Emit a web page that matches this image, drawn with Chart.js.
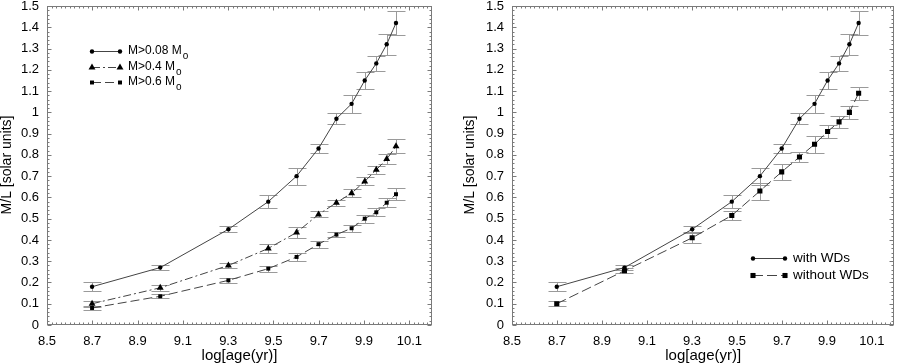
<!DOCTYPE html>
<html><head><meta charset="utf-8">
<script src="https://cdn.jsdelivr.net/npm/chart.js@4/dist/chart.umd.min.js"></script>
<style>
html,body{margin:0;padding:0;background:#fff;}
#wrap{position:relative;width:898px;height:364px;overflow:hidden;background:#fff;}
#c1{position:absolute;left:0;top:0;width:450px;height:364px;}
#c2{position:absolute;left:450px;top:0;width:448px;height:364px;}
</style></head><body>
<div id="wrap"><canvas id="c1" width="450" height="364"></canvas><canvas id="c2" width="448" height="364"></canvas></div>
<script>
// ---- data ----
const ages = [8.699, 9.0, 9.301, 9.477, 9.602, 9.699, 9.778, 9.845, 9.903, 9.954, 10.0, 10.041];
const mlAll = [0.18, 0.27, 0.45, 0.58, 0.70, 0.83, 0.97, 1.04, 1.15, 1.23, 1.32, 1.42];
const errAll = [0.022, 0.012, 0.014, 0.03, 0.04, 0.021, 0.026, 0.042, 0.041, 0.035, 0.05, 0.055];
const ml04 = [0.10, 0.175, 0.28, 0.36, 0.435, 0.52, 0.575, 0.62, 0.675, 0.73, 0.78, 0.84];
const err04 = [0.015, 0.013, 0.013, 0.023, 0.028, 0.014, 0.014, 0.02, 0.019, 0.02, 0.025, 0.033];
const ml06 = [0.08, 0.135, 0.21, 0.265, 0.32, 0.38, 0.425, 0.455, 0.50, 0.53, 0.575, 0.615];
const err06 = [0.01, 0.01, 0.012, 0.014, 0.02, 0.017, 0.013, 0.016, 0.019, 0.019, 0.02, 0.027];
const mlNoWD = [0.10, 0.255, 0.41, 0.515, 0.63, 0.72, 0.79, 0.85, 0.91, 0.955, 1.0, 1.09];
const errNoWD = [0.011, 0.011, 0.023, 0.023, 0.04, 0.037, 0.024, 0.039, 0.031, 0.027, 0.031, 0.03];
const xTicks = [8.5, 8.7, 8.9, 9.1, 9.3, 9.5, 9.7, 9.9, 10.1];
const xTickLabels = ['8.5','8.7','8.9','9.1','9.3','9.5','9.7','9.9','10.1'];
const yTicks = [0,0.1,0.2,0.3,0.4,0.5,0.6,0.7,0.8,0.9,1,1.1,1.2,1.3,1.4,1.5];
const yTickLabels = ['0','0.1','0.2','0.3','0.4','0.5','0.6','0.7','0.8','0.9','1','1.1','1.2','1.3','1.4','1.5'];
const leftLegend = ['M>0.08 M', 'M>0.4 M', 'M>0.6 M'];
const rightLegend = ['with WDs', 'without WDs'];
const xTitle = 'log[age(yr)]';
const yTitle = 'M/L [solar units]';

const FONT = '"Liberation Sans", Arial, Helvetica, sans-serif';

function ds(vals, errs, style, radius, dash) {
  return {
    data: ages.map((x, i) => ({x: x, y: vals[i]})),
    errs: errs,
    showLine: true,
    borderColor: '#444',
    borderWidth: 1,
    borderDash: dash,
    pointStyle: style,
    pointRadius: radius,
    pointBackgroundColor: '#000',
    pointBorderColor: '#000',
    pointBorderWidth: 0,
    pointHoverRadius: radius
  };
}

const framePlugin = {
  id: 'frame',
  beforeDatasetsDraw(chart, args, o) {
    const {ctx, chartArea: a, scales: {x, y}} = chart;
    ctx.save();
    ctx.strokeStyle = '#7a7a7a';
    ctx.lineWidth = 1;
    const L = Math.round(a.left) + 0.5, R = Math.round(a.right) - 0.5;
    const T = Math.round(a.top) + 0.5, B = Math.round(a.bottom) - 0.5;
    ctx.strokeRect(L, T, R - L, B - T);
    ctx.beginPath();
    for (let k = 0; k <= 85; k++) {
      const px = Math.round(x.getPixelForValue(8.5 + k * 0.02)) + 0.5;
      if (px > R + 0.1) break;
      const len = (k % 10 === 0) ? 4 : 2;
      ctx.moveTo(px, B); ctx.lineTo(px, B - len);
      ctx.moveTo(px, T); ctx.lineTo(px, T + len);
    }
    for (let k = 0; k <= 75; k++) {
      const py = Math.round(y.getPixelForValue(k * 0.02)) + 0.5;
      const len = (k % 5 === 0) ? 4 : 2;
      ctx.moveTo(L, py); ctx.lineTo(L + len, py);
      ctx.moveTo(R, py); ctx.lineTo(R - len, py);
    }
    ctx.stroke();
    // error bars
    ctx.strokeStyle = '#9a9a9a';
    ctx.beginPath();
    chart.data.datasets.forEach((d) => {
      d.errs.forEach((e, i) => {
        const px = Math.round(x.getPixelForValue(d.data[i].x)) + 0.5;
        const p1 = Math.round(y.getPixelForValue(d.data[i].y - e)) + 0.5;
        const p2 = Math.round(y.getPixelForValue(d.data[i].y + e)) + 0.5;
        ctx.moveTo(px, p1); ctx.lineTo(px, p2);
        ctx.moveTo(px - 9, p1); ctx.lineTo(px + 9, p1);
        ctx.moveTo(px - 9, p2); ctx.lineTo(px + 9, p2);
      });
    });
    ctx.stroke();
    ctx.restore();
  },
  afterDraw(chart, args, o) {
    const {ctx, chartArea: a} = chart;
    ctx.save();
    ctx.fillStyle = '#000';
    // x title
    ctx.font = '15px ' + FONT;
    ctx.textAlign = 'center';
    ctx.textBaseline = 'middle';
    ctx.fillText(xTitle, (a.left + a.right) / 2, 356);
    // y title
    ctx.save();
    ctx.translate(o.yTitleX, 165);
    ctx.rotate(-Math.PI / 2);
    ctx.font = '14px ' + FONT;
    ctx.fillText(yTitle, 0, 0);
    ctx.restore();
    // legend
    const lg = o.legend;
    chart.data.datasets.forEach((d, i) => {
      const yy = lg.rows[i];
      ctx.save();
      ctx.strokeStyle = '#444';
      ctx.lineWidth = 1;
      ctx.setLineDash(d.borderDash || []);
      ctx.beginPath();
      ctx.moveTo(lg.x1, yy + 0.5); ctx.lineTo(lg.x2, yy + 0.5);
      ctx.stroke();
      ctx.setLineDash([]);
      ctx.fillStyle = '#000';
      const po = {pointStyle: d.pointStyle, radius: d.pointRadius, rotation: 0, borderWidth: 0};
      Chart.helpers.drawPoint(ctx, po, lg.x1, yy + 0.5);
      Chart.helpers.drawPoint(ctx, po, lg.x2, yy + 0.5);
      ctx.restore();
      ctx.font = lg.size + 'px ' + FONT;
      ctx.textAlign = 'left';
      ctx.textBaseline = 'middle';
      const t = lg.labels[i];
      ctx.fillText(t, lg.tx, yy);
      if (lg.sub) {
        const w = ctx.measureText(t).width;
        ctx.font = '10px ' + FONT;
        ctx.fillText(lg.sub, lg.tx + w + 1, yy + 5);
      }
    });
    ctx.restore();
  }
};

function makeChart(id, datasets, yWidth, padRight, legendOpts, yTitleX) {
  return new Chart(document.getElementById(id), {
    type: 'scatter',
    data: {datasets: datasets},
    plugins: [framePlugin],
    options: {
      responsive: false,
      animation: false,
      events: [],
      layout: {padding: {left: 0, top: 6, right: padRight, bottom: 0}},
      plugins: {
        legend: {display: false},
        tooltip: {enabled: false},
        frame: {legend: legendOpts, yTitleX: yTitleX}
      },
      scales: {
        x: {
          type: 'linear', min: 8.5, max: 10.2,
          afterBuildTicks: (s) => { s.ticks = xTicks.map(v => ({value: v})); },
          afterFit: (s) => { s.height = 39; s.paddingLeft = 0; s.paddingRight = 0; },
          grid: {display: false, drawTicks: false},
          border: {display: false},
          ticks: {
            color: '#000', padding: 9, maxRotation: 0, autoSkip: false,
            font: {family: FONT, size: 13},
            callback: (v, i) => xTickLabels[i]
          }
        },
        y: {
          type: 'linear', min: 0, max: 1.5,
          afterBuildTicks: (s) => { s.ticks = yTicks.map(v => ({value: v})); },
          afterFit: (s) => { s.width = yWidth; s.paddingTop = 0; s.paddingBottom = 0; },
          grid: {display: false, drawTicks: false},
          border: {display: false},
          ticks: {
            color: '#000', padding: 8, autoSkip: false,
            font: {family: FONT, size: 13},
            callback: (v, i) => yTickLabels[i]
          }
        }
      }
    }
  });
}

makeChart('c1', [
  ds(mlAll, errAll, 'circle', 2.2, []),
  ds(ml04, err04, 'triangle', 4, [8, 3, 2, 3]),
  ds(ml06, err06, 'rect', 2.8, [9, 4])
], 47, 18, {rows: [51, 67, 82], x1: 92, x2: 120, tx: 128, size: 12, labels: leftLegend, sub: 'o'}, 7);

makeChart('c2', [
  ds(mlAll, errAll, 'circle', 2.2, []),
  ds(mlNoWD, errNoWD, 'rect', 3.6, [10, 4])
], 62, 1, {rows: [258, 275], x1: 303, x2: 335, tx: 343, size: 13.5, labels: rightLegend, sub: ''}, 20);
</script>
</body></html>
